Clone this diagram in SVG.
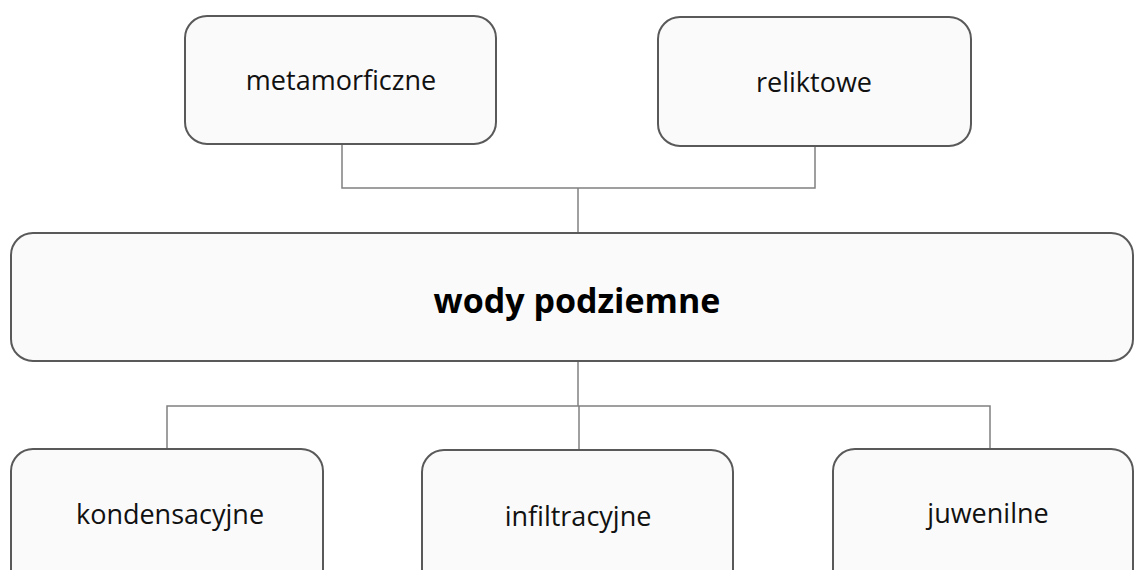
<svg xmlns="http://www.w3.org/2000/svg" width="1134" height="570" viewBox="0 0 1134 570">
<style>
.box{fill:#fafafa;stroke:#595959;stroke-width:2}
.lbl{font-family:"Open Sans","Liberation Sans",sans-serif;font-size:27px;fill:#111;text-anchor:middle}
.main{font-family:"Open Sans","Liberation Sans",sans-serif;font-size:34px;font-weight:bold;fill:#000;text-anchor:middle}
.con{fill:none;stroke:#808080;stroke-width:1.5}
</style>
<rect width="1134" height="570" fill="#ffffff"/>
<g id="connectors">
<path class="con" d="M342 144 V188 H815 V146"/>
<path class="con" d="M578 188 V233"/>
<path class="con" d="M578 361 V406"/>
<path class="con" d="M167 449 V406 H990 V451"/>
<path class="con" d="M579 406 V450"/>
</g>
<g id="metamorficzne"><rect class="box" x="185" y="16" width="311" height="128" rx="22"/><text class="lbl" x="341" y="90">metamorficzne</text></g>
<g id="reliktowe"><rect class="box" x="658" y="17" width="313" height="129" rx="22"/><text class="lbl" x="814" y="92">reliktowe</text></g>
<g id="wody-podziemne"><rect class="box" x="11" y="233" width="1122" height="128" rx="22"/><text class="main" x="577" y="313">wody podziemne</text></g>
<g id="kondensacyjne"><rect class="box" x="11" y="449" width="312" height="150" rx="22"/><text class="lbl" x="170" y="524">kondensacyjne</text></g>
<g id="infiltracyjne"><rect class="box" x="422" y="450" width="311" height="150" rx="22"/><text class="lbl" x="578" y="526">infiltracyjne</text></g>
<g id="juwenilne"><rect class="box" x="833" y="449" width="300" height="150" rx="22"/><text class="lbl" x="988" y="523">juwenilne</text></g>
</svg>
